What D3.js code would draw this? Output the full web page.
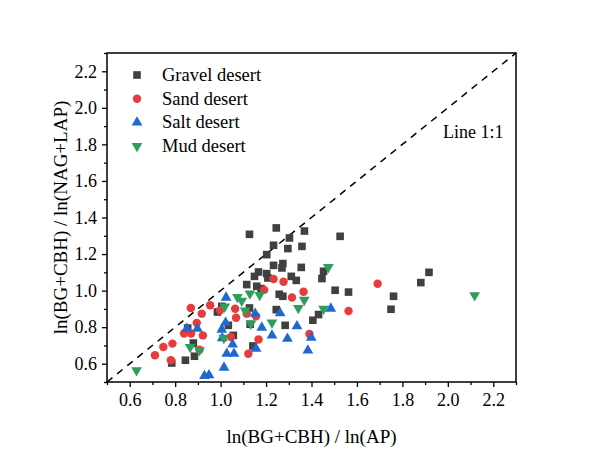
<!DOCTYPE html>
<html>
<head>
<meta charset="utf-8">
<script src="https://cdn.jsdelivr.net/npm/d3@7"></script>
<style>
  body { margin: 0; background: #fff; }
  svg text { font-family: "Liberation Serif", "Times New Roman", serif; fill: #000; }
</style>
</head>
<body>
<svg id="chart" width="600" height="459"></svg>
<script>
// values: [x, y] = [ln(BG+CBH)/ln(AP), ln(BG+CBH)/ln(NAG+LAP)]
const gravel = [
  [1.127,1.308],[1.245,1.343],[1.369,1.326],[1.303,1.288],[1.526,1.297],[1.233,1.248],
  [1.296,1.230],[1.358,1.242],[1.203,1.197],[1.233,1.138],[1.274,1.148],[1.270,1.124],
  [1.355,1.127],[1.167,1.102],[1.203,1.093],[1.208,1.069],[1.149,1.078],[1.311,1.078],
  [1.333,1.056],[1.115,1.033],[1.159,1.024],[1.178,1.011],[1.258,0.980],[1.274,0.969],
  [1.453,1.106],[1.446,1.066],[1.504,1.002],[1.563,0.992],[1.761,0.969],[1.750,0.898],
  [1.881,1.044],[1.917,1.100],[0.986,0.883],[1.005,0.914],[1.127,0.905],[1.245,0.896],
  [1.034,0.810],[1.130,0.816],[1.284,0.810],[1.056,0.755],[1.142,0.697],[1.406,0.838],
  [1.431,0.869],[0.785,0.604],[0.845,0.619],[0.885,0.641],[0.880,0.713],[0.855,0.795]
];
const sand = [
  [0.711,0.646],[0.748,0.691],[0.788,0.710],[0.781,0.619],[0.869,0.905],[0.917,0.874],
  [0.954,0.920],[0.998,0.892],[0.895,0.823],[0.839,0.765],[0.870,0.765],[0.922,0.755],
  [0.907,0.677],[1.064,0.901],[1.068,0.852],[1.122,0.655],[1.115,0.874],[1.156,0.860],
  [1.167,0.732],[1.045,0.746],[1.314,0.962],[1.365,0.994],[1.391,0.763],[1.233,1.064],
  [1.277,1.049],[1.192,1.004],[1.691,1.038],[1.563,0.888]
];
const salt = [
  [0.851,0.792],[0.898,0.792],[0.929,0.533],[0.949,0.537],[1.024,0.962],[1.022,0.825],
  [1.005,0.787],[1.007,0.740],[1.053,0.706],[1.027,0.655],[1.059,0.655],[1.015,0.579],
  [1.152,0.874],[1.262,0.877],[1.181,0.798],[1.226,0.755],[1.156,0.683],[1.294,0.737],
  [1.336,0.805],[1.399,0.743],[1.384,0.673],[1.485,0.902]
];
const mud = [
  [0.630,0.564],[0.866,0.691],[0.907,0.673],[1.018,0.912],[1.014,0.741],[1.074,0.965],
  [1.093,0.944],[1.108,0.890],[1.129,0.984],[1.172,0.976],[1.133,0.819],[1.226,0.825],
  [1.342,0.904],[1.368,0.949],[1.453,0.900],[1.474,1.128],[2.118,0.974]
];

const seriesNames = ["Gravel desert", "Sand desert", "Salt desert", "Mud desert"];
const majorTicks = [0.6, 0.8, 1.0, 1.2, 1.4, 1.6, 1.8, 2.0, 2.2];
const minorTicks = [0.5, 0.7, 0.9, 1.1, 1.3, 1.5, 1.7, 1.9, 2.1, 2.3];
const domain = [0.5, 2.3];

const svg = d3.select("#chart");
const margin = { left: 107, right: 84, top: 53, bottom: 77 };
const width = +svg.attr("width");
const height = +svg.attr("height");
const serif = '"Liberation Serif", "Times New Roman", serif';

const x = d3.scaleLinear().domain(domain).range([margin.left, width - margin.right]);
const y = d3.scaleLinear().domain(domain).range([height - margin.bottom, margin.top]);

const styles = [
  { data: gravel, type: d3.symbolSquare, size: 58, color: "#404040", rotate: 0 },
  { data: sand, type: d3.symbolCircle, size: 56, color: "#e63c3c", rotate: 0 },
  { data: salt, type: d3.symbolTriangle, size: 50, color: "#1f68d2", rotate: 0 },
  { data: mud, type: d3.symbolTriangle, size: 50, color: "#2e9e5b", rotate: 180 }
];

// axes (ticks only on left and bottom, outward)
const xAxis = svg.append("g").attr("transform", `translate(0,${y(domain[0])})`);
xAxis.call(d3.axisBottom(x).tickValues(majorTicks).tickFormat(d3.format(".1f")).tickSize(5).tickPadding(6));
const xMinor = svg.append("g").attr("transform", `translate(0,${y(domain[0])})`);
xMinor.call(d3.axisBottom(x).tickValues(minorTicks).tickFormat("").tickSize(3));

const yAxis = svg.append("g").attr("transform", `translate(${x(domain[0])},0)`);
yAxis.call(d3.axisLeft(y).tickValues(majorTicks).tickFormat(d3.format(".1f")).tickSize(5).tickPadding(5));
const yMinor = svg.append("g").attr("transform", `translate(${x(domain[0])},0)`);
yMinor.call(d3.axisLeft(y).tickValues(minorTicks).tickFormat("").tickSize(3));

svg.selectAll(".domain").remove();
svg.selectAll(".tick line").attr("stroke", "#000").attr("stroke-width", 1.3);
svg.selectAll(".tick text")
   .style("font-family", serif)
   .style("font-size", "18px")
   .attr("fill", "#000");

// frame
svg.append("rect")
   .attr("x", x(domain[0]))
   .attr("y", y(domain[1]))
   .attr("width", x(domain[1]) - x(domain[0]))
   .attr("height", y(domain[0]) - y(domain[1]))
   .attr("fill", "none")
   .attr("stroke", "#000")
   .attr("stroke-width", 1.5);

// 1:1 line
svg.append("line")
   .attr("x1", x(domain[0])).attr("y1", y(domain[0]))
   .attr("x2", x(domain[1])).attr("y2", y(domain[1]))
   .attr("stroke", "#000")
   .attr("stroke-width", 1.5)
   .attr("stroke-dasharray", "7,6");

svg.append("text")
   .attr("x", 443)
   .attr("y", 138)
   .style("font-size", "18px")
   .text("Line 1:1");

// points
styles.forEach(s => {
  svg.append("g").selectAll("path")
     .data(s.data)
     .enter()
     .append("path")
     .attr("d", d3.symbol().type(s.type).size(s.size))
     .attr("transform", d => `translate(${x(d[0])},${y(d[1])}) rotate(${s.rotate})`)
     .attr("fill", s.color);
});

// legend
const legend = svg.append("g").attr("transform", "translate(137,75)");
seriesNames.forEach((name, i) => {
  const row = legend.append("g").attr("transform", `translate(0,${i * 23.7})`);
  row.append("path")
     .attr("d", d3.symbol().type(styles[i].type).size(styles[i].size))
     .attr("transform", `rotate(${styles[i].rotate})`)
     .attr("fill", styles[i].color);
  row.append("text")
     .attr("x", 25)
     .attr("y", 6)
     .style("font-size", "18.5px")
     .text(name);
});

// axis titles
svg.append("text")
   .attr("x", (x(domain[0]) + x(domain[1])) / 2)
   .attr("y", 443)
   .attr("text-anchor", "middle")
   .style("font-size", "19px")
   .text("ln(BG+CBH) / ln(AP)");

svg.append("text")
   .attr("transform", `translate(67,${(y(domain[0]) + y(domain[1])) / 2}) rotate(-90)`)
   .attr("text-anchor", "middle")
   .style("font-size", "19px")
   .text("ln(BG+CBH) / ln(NAG+LAP)");
</script>
</body>
</html>
